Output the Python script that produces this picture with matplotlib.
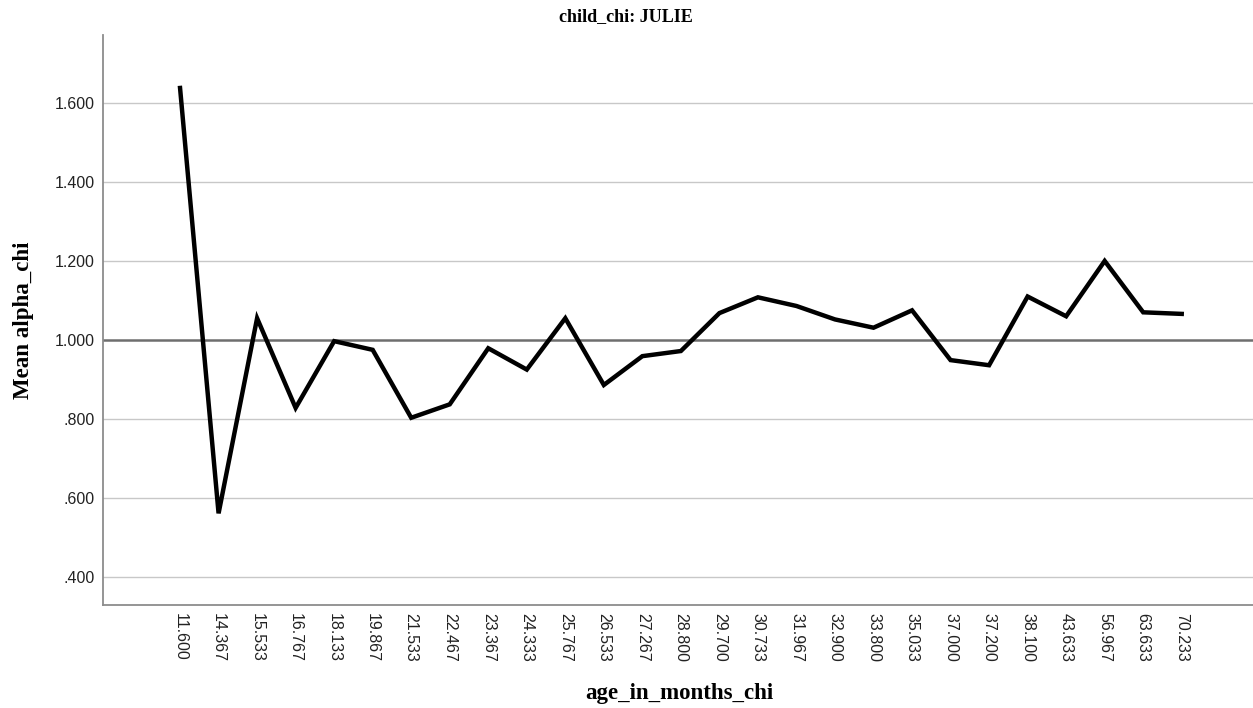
import numpy as np
import matplotlib.pyplot as plt

# nhãn trục x (tuổi tính theo tháng)
ages = ["11.600", "14.367", "15.533", "16.767", "18.133", "19.867", "21.533",
        "22.467", "23.367", "24.333", "25.767", "26.533", "27.267", "28.800",
        "29.700", "30.733", "31.967", "32.900", "33.800", "35.033", "37.000",
        "37.200", "38.100", "43.633", "56.967", "63.633", "70.233"]

# giá trị trung bình alpha_chi
mean_alpha = [1.638, 0.561, 1.055, 0.828, 0.997, 0.975, 0.803,
              0.837, 0.979, 0.925, 1.055, 0.886, 0.959, 0.972,
              1.068, 1.108, 1.086, 1.052, 1.031, 1.075, 0.949,
              0.936, 1.110, 1.060, 1.200, 1.070, 1.066]

yticks = [0.4, 0.6, 0.8, 1.0, 1.2, 1.4, 1.6]
ytick_labels = [".400", ".600", ".800", "1.000", "1.200", "1.400", "1.600"]

fig = plt.figure(figsize=(12.53, 7.08), dpi=100)
ax = fig.add_axes([0.0822, 0.1455, 0.9178, 0.805])

x = np.arange(len(ages))

# lưới ngang, đường 1.000 đậm hơn
for yt in yticks:
    if yt == 1.0:
        ax.axhline(yt, color="#6e6e6e", linewidth=1.8, zorder=1)
    else:
        ax.axhline(yt, color="#c8c8c8", linewidth=1.0, zorder=1)

ax.plot(x, mean_alpha, color="black", linewidth=3.2, zorder=3,
        solid_joinstyle="miter")

ax.set_xlim(-2, 27.85)
ax.set_ylim(0.329, 1.772)

ax.set_xticks(x)
ax.set_xticklabels(ages, rotation=270, family="Liberation Sans", fontsize=11.5)
ax.set_yticks(yticks)
ax.set_yticklabels(ytick_labels, family="Liberation Sans", fontsize=11.5)
ax.tick_params(length=0, pad=6, colors="#222222")

for s in ["top", "right"]:
    ax.spines[s].set_visible(False)
for s in ["left", "bottom"]:
    ax.spines[s].set_color("#8c8c8c")
    ax.spines[s].set_linewidth(1.3)

# tiêu đề và nhãn trục
fig.text(0.0184, 0.548, "Mean alpha_chi", family="Liberation Serif",
         fontweight="bold", fontsize=16.5, rotation=90, ha="center", va="center")
fig.text(0.542, 0.0198, "age_in_months_chi", family="Liberation Serif",
         fontweight="bold", fontsize=16.5, ha="center", va="center")
fig.text(0.4996, 0.976, "child_chi: JULIE", family="Liberation Serif",
         fontweight="bold", fontsize=13, ha="center", va="center")

fig.savefig("out.png", dpi=100)
